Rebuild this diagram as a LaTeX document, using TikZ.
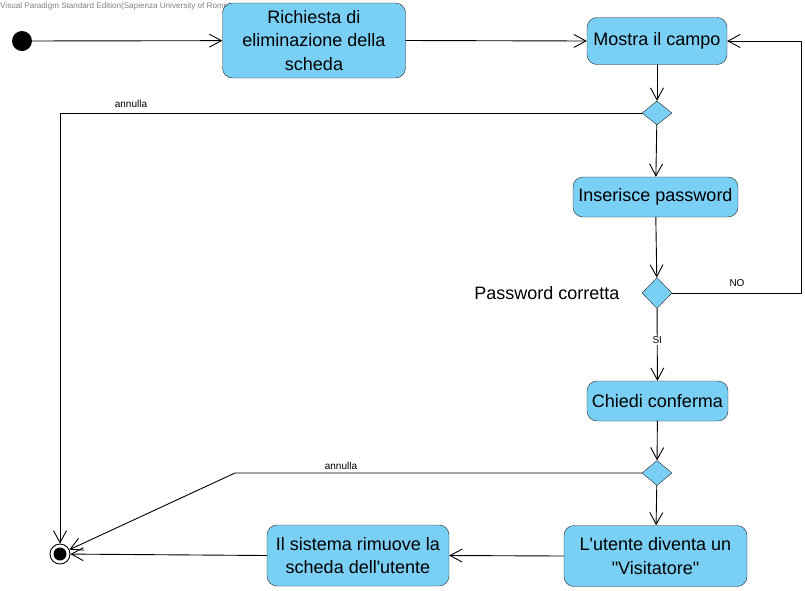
\documentclass[tikz,border=0pt]{standalone}
\usepackage{fontspec}
\setmainfont{Liberation Sans}[Ligatures=TeXOff]
\usetikzlibrary{arrows.meta,shapes.geometric}
\definecolor{actblue}{HTML}{7ACFF5}

\begin{document}
\begin{tikzpicture}[line cap=round,line join=round,>={Straight Barb[length=12pt,width=13pt]},x=1pt,y=-1pt,
  action/.style={draw=black!85,fill=actblue,rounded corners=10pt,align=center,inner sep=0pt,font=\fontsize{18}{23.5}\selectfont},
  decision/.style={diamond,draw=black!85,fill=actblue,inner sep=0pt},
  small/.style={font=\fontsize{10}{12}\selectfont},
  flow/.style={->,line width=0.9pt}]
\useasboundingbox (0,0) rectangle (805,590);
\node[anchor=west,text=black!50,font=\fontsize{8.1}{10}\selectfont,inner sep=0pt] (mark) at (0,6) {Visual Paradigm Standard Edition(Sapienza University of Rome)};
% nodi
\node[circle,fill=black,minimum size=20pt,inner sep=0pt] (start) at (22,41) {};
\node[action,minimum width=183pt,minimum height=75pt] (rich) at (314,40.5) {Richiesta di\\eliminazione della\\scheda};
\node[action,minimum width=140pt,minimum height=47pt] (mostra) at (657,41) {Mostra il campo};
\node[decision,minimum width=30pt,minimum height=24pt] (d1) at (657,113) {};
\node[action,minimum width=165pt,minimum height=40pt] (ins) at (655.5,197) {Inserisce password};
\node[decision,minimum width=30pt,minimum height=31pt] (d2) at (657,293) {};
\node[anchor=east,font=\fontsize{18}{21}\selectfont] (pwd) at (623,293) {Password corretta};
\node[action,minimum width=141pt,minimum height=40pt] (chiedi) at (657.5,401) {Chiedi conferma};
\node[decision,minimum width=30pt,minimum height=25pt] (d3) at (657,473) {};
\node[action,minimum width=183pt,minimum height=61pt] (utente) at (655.5,556) {L'utente diventa un\\"Visitatore"};
\node[action,minimum width=182pt,minimum height=61pt] (sistema) at (358,555.5) {Il sistema rimuove la\\scheda dell'utente};
\node[circle,draw,line width=0.9pt,minimum size=20pt,inner sep=0pt] (final) at (60,554) {};
\fill (final) circle (6.5pt);
\coordinate (nocorner) at (801,293);
\coordinate (bend) at (235,473);
% archi
\draw[flow] (start) -- (rich);
\draw[flow] (rich.east) -- (mostra.west);
\draw[flow] (mostra) -- (d1);
\draw[flow] (d1.west) -| (final);
\node[small] (ann1) at (131,104) {annulla};
\draw[flow] (d1) -- (ins);
\draw[flow] (ins) -- (d2);
\draw[flow] (d2.east) -- (nocorner) |- (mostra.east);
\node[small] (no) at (737,283) {NO};
\draw[flow] (d2) -- node[small,fill=white,pos=0.44,inner sep=1pt] (si) {SI} (chiedi);
\draw[flow] (chiedi) -- (d3);
\draw[flow] (d3.west) -- (bend) -- (final);
\node[small] (ann2) at (341,466) {annulla};
\draw[flow] (d3) -- (utente);
\draw[flow] (utente.west) -- (sistema.east);
\draw[flow] (sistema.west) -- (final);

\end{tikzpicture}
\end{document}
